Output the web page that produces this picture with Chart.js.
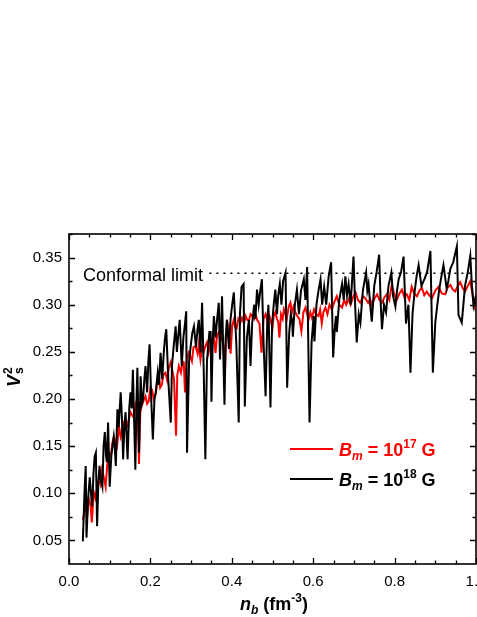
<!DOCTYPE html>
<html>
<head>
<meta charset="utf-8">
<script src="https://cdn.jsdelivr.net/npm/chart.js@4/dist/chart.umd.min.js"></script>
<style>
html,body{margin:0;padding:0;background:#fff;}
#wrap{position:relative;width:477px;height:617px;}
</style>
</head>
<body>
<div id="wrap"><canvas id="c" width="477" height="617"></canvas></div>
<script>
// ---- data ----
const blackX = [0.034,0.038,0.041,0.043,0.047,0.051,0.054,0.057,0.060,0.063,0.066,0.069,0.072,0.075,0.078,0.082,0.085,0.088,0.091,0.093,0.096,0.100,0.104,0.107,0.110,0.113,0.115,0.119,0.122,0.127,0.130,0.133,0.136,0.139,0.144,0.148,0.151,0.154,0.157,0.163,0.166,0.168,0.172,0.176,0.179,0.182,0.185,0.188,0.192,0.195,0.198,0.202,0.206,0.210,0.213,0.218,0.221,0.225,0.229,0.233,0.236,0.239,0.244,0.250,0.253,0.257,0.262,0.265,0.268,0.272,0.277,0.281,0.285,0.288,0.290,0.295,0.299,0.303,0.307,0.312,0.316,0.319,0.323,0.327,0.331,0.335,0.339,0.342,0.345,0.348,0.350,0.353,0.356,0.360,0.364,0.368,0.371,0.376,0.379,0.382,0.385,0.388,0.393,0.397,0.401,0.405,0.411,0.417,0.420,0.424,0.429,0.432,0.437,0.442,0.446,0.450,0.455,0.458,0.462,0.466,0.470,0.474,0.478,0.483,0.487,0.490,0.495,0.499,0.503,0.507,0.511,0.514,0.518,0.522,0.526,0.532,0.536,0.541,0.545,0.548,0.550,0.555,0.560,0.565,0.570,0.577,0.581,0.585,0.591,0.596,0.601,0.603,0.608,0.613,0.618,0.622,0.627,0.632,0.638,0.644,0.649,0.653,0.656,0.658,0.664,0.671,0.675,0.679,0.683,0.687,0.692,0.699,0.703,0.707,0.712,0.716,0.722,0.730,0.733,0.736,0.740,0.744,0.750,0.756,0.762,0.766,0.769,0.774,0.779,0.785,0.792,0.796,0.802,0.806,0.810,0.816,0.822,0.828,0.834,0.839,0.844,0.849,0.854,0.859,0.866,0.874,0.880,0.888,0.894,0.900,0.905,0.910,0.915,0.920,0.928,0.932,0.937,0.944,0.953,0.957,0.961,0.965,0.969,0.973,0.980,0.986,0.990,0.994,1.000];
const blackY = [0.049,0.100,0.129,0.053,0.095,0.117,0.100,0.086,0.120,0.139,0.143,0.065,0.110,0.129,0.115,0.107,0.150,0.165,0.140,0.133,0.175,0.107,0.140,0.150,0.160,0.145,0.129,0.189,0.170,0.207,0.180,0.136,0.170,0.186,0.136,0.190,0.207,0.190,0.231,0.125,0.200,0.233,0.143,0.224,0.195,0.200,0.220,0.235,0.207,0.240,0.258,0.200,0.157,0.200,0.207,0.228,0.215,0.249,0.221,0.250,0.265,0.274,0.220,0.175,0.235,0.255,0.277,0.250,0.265,0.284,0.235,0.265,0.280,0.293,0.143,0.240,0.256,0.270,0.277,0.255,0.275,0.284,0.249,0.302,0.230,0.136,0.240,0.256,0.271,0.271,0.197,0.260,0.288,0.265,0.285,0.302,0.242,0.309,0.250,0.194,0.265,0.284,0.253,0.285,0.300,0.313,0.260,0.175,0.290,0.319,0.322,0.192,0.265,0.284,0.235,0.280,0.300,0.285,0.316,0.300,0.315,0.327,0.260,0.203,0.280,0.300,0.191,0.280,0.300,0.316,0.290,0.310,0.322,0.300,0.325,0.334,0.212,0.270,0.290,0.284,0.266,0.300,0.316,0.290,0.315,0.327,0.305,0.340,0.175,0.260,0.288,0.261,0.300,0.315,0.327,0.300,0.319,0.300,0.330,0.345,0.244,0.275,0.288,0.271,0.305,0.322,0.305,0.330,0.310,0.322,0.300,0.351,0.300,0.260,0.290,0.281,0.315,0.334,0.315,0.322,0.300,0.282,0.320,0.335,0.353,0.300,0.274,0.300,0.292,0.320,0.334,0.310,0.298,0.315,0.327,0.335,0.351,0.280,0.300,0.228,0.290,0.313,0.330,0.342,0.320,0.328,0.335,0.357,0.228,0.281,0.300,0.317,0.330,0.342,0.317,0.325,0.338,0.345,0.362,0.289,0.285,0.281,0.300,0.320,0.335,0.352,0.320,0.299,0.310];

const redX = [0.034,0.038,0.042,0.045,0.049,0.053,0.056,0.061,0.065,0.070,0.074,0.077,0.081,0.085,0.090,0.094,0.098,0.103,0.106,0.110,0.114,0.118,0.123,0.127,0.130,0.134,0.139,0.144,0.148,0.151,0.156,0.160,0.164,0.168,0.172,0.175,0.178,0.183,0.188,0.192,0.196,0.200,0.204,0.208,0.213,0.217,0.221,0.224,0.228,0.232,0.237,0.241,0.245,0.250,0.254,0.258,0.263,0.266,0.270,0.275,0.279,0.282,0.285,0.289,0.294,0.298,0.302,0.306,0.311,0.316,0.319,0.323,0.327,0.331,0.335,0.339,0.343,0.348,0.352,0.356,0.360,0.364,0.368,0.372,0.376,0.380,0.383,0.386,0.388,0.392,0.397,0.401,0.405,0.408,0.412,0.416,0.421,0.425,0.430,0.434,0.438,0.442,0.446,0.450,0.455,0.458,0.462,0.468,0.473,0.478,0.483,0.488,0.491,0.495,0.500,0.503,0.507,0.511,0.514,0.517,0.521,0.525,0.528,0.532,0.535,0.540,0.544,0.548,0.552,0.556,0.561,0.566,0.571,0.576,0.581,0.585,0.589,0.593,0.597,0.602,0.607,0.613,0.617,0.621,0.625,0.630,0.635,0.640,0.646,0.652,0.658,0.664,0.671,0.676,0.681,0.687,0.692,0.698,0.704,0.710,0.716,0.722,0.728,0.735,0.740,0.744,0.750,0.757,0.763,0.769,0.775,0.781,0.787,0.793,0.800,0.806,0.812,0.818,0.824,0.830,0.836,0.842,0.848,0.855,0.861,0.867,0.873,0.879,0.885,0.892,0.900,0.908,0.916,0.924,0.930,0.937,0.943,0.949,0.955,0.961,0.967,0.973,0.980,0.986,0.991,0.996,1.000];
const redY = [0.072,0.080,0.085,0.078,0.094,0.088,0.069,0.101,0.095,0.108,0.115,0.110,0.125,0.118,0.107,0.130,0.143,0.140,0.152,0.160,0.155,0.150,0.171,0.160,0.165,0.175,0.178,0.172,0.180,0.186,0.182,0.180,0.195,0.200,0.131,0.185,0.192,0.198,0.203,0.195,0.198,0.212,0.210,0.200,0.205,0.218,0.224,0.212,0.215,0.226,0.228,0.220,0.232,0.239,0.230,0.221,0.161,0.225,0.235,0.228,0.240,0.239,0.207,0.240,0.249,0.245,0.240,0.255,0.256,0.248,0.258,0.242,0.255,0.250,0.256,0.260,0.250,0.263,0.258,0.265,0.249,0.268,0.271,0.262,0.266,0.255,0.225,0.270,0.284,0.275,0.248,0.278,0.284,0.276,0.275,0.285,0.281,0.286,0.280,0.288,0.284,0.283,0.290,0.288,0.285,0.290,0.284,0.280,0.249,0.285,0.290,0.282,0.290,0.284,0.275,0.288,0.292,0.285,0.282,0.265,0.290,0.285,0.295,0.290,0.285,0.298,0.302,0.292,0.298,0.292,0.288,0.285,0.272,0.292,0.297,0.290,0.285,0.292,0.286,0.295,0.290,0.288,0.295,0.280,0.292,0.297,0.290,0.300,0.295,0.303,0.309,0.300,0.297,0.305,0.300,0.306,0.300,0.308,0.313,0.305,0.302,0.309,0.307,0.302,0.306,0.300,0.306,0.311,0.305,0.302,0.308,0.311,0.305,0.321,0.310,0.306,0.312,0.316,0.308,0.311,0.305,0.319,0.312,0.309,0.315,0.318,0.310,0.314,0.310,0.307,0.315,0.319,0.312,0.311,0.318,0.321,0.316,0.314,0.320,0.324,0.318,0.314,0.320,0.325,0.312,0.298,0.305];

const conformalX = [0.345, 1.0];
const conformalY = [1/3, 1/3];

const xTickValues = [0.0,0.2,0.4,0.6,0.8,1.0];
const xTickLabels = ["0.0","0.2","0.4","0.6","0.8","1.0"];
const yTickValues = [0.05,0.10,0.15,0.20,0.25,0.30,0.35];
const yTickLabels = ["0.05","0.10","0.15","0.20","0.25","0.30","0.35"];

const FONT = "'Liberation Sans', Arial, sans-serif";

function pts(xs, ys){ return xs.map((x,i)=>({x:x, y:ys[i]})); }

// draw mixed-style text pieces: [text, font, dy, color]
function drawRich(ctx, x, y, parts){
  let cx = x;
  for (const p of parts){
    ctx.font = p[1];
    ctx.fillStyle = p[3] || '#000';
    ctx.fillText(p[0], cx, y + p[2]);
    cx += ctx.measureText(p[0]).width;
  }
  return cx - x;
}
function richWidth(ctx, parts){
  let w = 0;
  for (const p of parts){ ctx.font = p[1]; w += ctx.measureText(p[0]).width; }
  return w;
}

const decor = {
  id: 'decor',
  afterDatasetsDraw(chart){
    const ctx = chart.ctx;
    const a = chart.chartArea;
    const xs = chart.scales.x, ys = chart.scales.y;
    ctx.save();
    // frame
    ctx.strokeStyle = '#000';
    ctx.lineWidth = 1.6;
    ctx.strokeRect(a.left, a.top, a.right - a.left, a.bottom - a.top);
    // ticks (inward) on all four sides
    ctx.lineWidth = 1.3;
    ctx.beginPath();
    for (let v = 0; v <= 1.0001; v += 0.05){
      const px = Math.round(xs.getPixelForValue(v)) + 0.5;
      const major = Math.abs(v/0.2 - Math.round(v/0.2)) < 1e-6;
      const L = major ? 6 : 3.5;
      ctx.moveTo(px, a.bottom); ctx.lineTo(px, a.bottom - L);
      ctx.moveTo(px, a.top); ctx.lineTo(px, a.top + L);
    }
    for (let v = 0.05; v <= 0.3751; v += 0.025){
      const py = Math.round(ys.getPixelForValue(v)) + 0.5;
      const major = Math.abs(v/0.05 - Math.round(v/0.05)) < 1e-6;
      const L = major ? 6 : 3.5;
      ctx.moveTo(a.left, py); ctx.lineTo(a.left + L, py);
      ctx.moveTo(a.right, py); ctx.lineTo(a.right - L, py);
    }
    ctx.stroke();

    // "Conformal limit"
    ctx.textBaseline = 'alphabetic';
    ctx.textAlign = 'left';
    ctx.fillStyle = '#000';
    ctx.font = '18px ' + FONT;
    ctx.fillText('Conformal limit', 83, 281);

    // legend
    const legend = [
      {color:'#ff0000', sup:'17', y:449},
      {color:'#000000', sup:'18', y:479}
    ];
    for (const l of legend){
      ctx.strokeStyle = l.color;
      ctx.lineWidth = 2;
      ctx.beginPath(); ctx.moveTo(290, l.y); ctx.lineTo(333, l.y); ctx.stroke();
      drawRich(ctx, 339, l.y + 7, [
        ['B', 'italic bold 18px ' + FONT, 0, l.color],
        ['m', 'italic bold 12px ' + FONT, 4, l.color],
        [' = 10', 'bold 18px ' + FONT, 0, l.color],
        [l.sup, 'bold 12px ' + FONT, -8, l.color],
        [' G', 'bold 18px ' + FONT, 0, l.color]
      ]);
    }

    // x axis title
    const xParts = [
      ['n', 'italic bold 18px ' + FONT, 0],
      ['b', 'italic bold 12px ' + FONT, 4],
      [' (fm', 'bold 18px ' + FONT, 0],
      ['-3', 'bold 12px ' + FONT, -8],
      [')', 'bold 18px ' + FONT, 0]
    ];
    const xw = richWidth(ctx, xParts);
    drawRich(ctx, 274 - xw/2, 610, xParts);

    // y axis title (rotated)
    ctx.translate(20, 387);
    ctx.rotate(-Math.PI/2);
    ctx.font = 'italic bold 18px ' + FONT;
    ctx.fillStyle = '#000';
    ctx.fillText('V', 0, 0);
    const vw = ctx.measureText('V').width;
    ctx.font = 'bold 12px ' + FONT;
    ctx.fillText('s', vw + 1, 3);
    ctx.fillText('2', vw + 1, -8);
    ctx.restore();
  }
};

new Chart(document.getElementById('c'), {
  type: 'line',
  data: {
    datasets: [
      {
        label: 'Bm = 10^18 G',
        data: pts(blackX, blackY),
        borderColor: '#000000',
        borderWidth: 2,
        pointRadius: 0,
        tension: 0,
        order: 1
      },
      {
        label: 'Bm = 10^17 G',
        data: pts(redX, redY),
        borderColor: '#ff0000',
        borderWidth: 2,
        pointRadius: 0,
        tension: 0,
        order: 2
      },
      {
        label: 'Conformal limit',
        data: pts(conformalX, conformalY),
        borderColor: '#000000',
        borderWidth: 1.6,
        borderDash: [2, 5],
        pointRadius: 0,
        order: 0
      }
    ]
  },
  options: {
    responsive: false,
    animation: false,
    events: [],
    layout: { padding: { top: 234, right: 1, left: 0, bottom: 0 } },
    plugins: { legend: { display: false }, tooltip: { enabled: false }, title: { display: false } },
    scales: {
      x: {
        type: 'linear',
        min: 0, max: 1.0,
        afterFit: s => { s.height = 53; s.paddingLeft = 0; s.paddingRight = 0; },
        afterBuildTicks: s => { s.ticks = xTickValues.map(v => ({value: v})); },
        grid: { display: false, drawTicks: false },
        border: { display: false },
        ticks: {
          padding: 9,
          color: '#000',
          font: { family: FONT, size: 15 },
          maxRotation: 0,
          autoSkip: false,
          callback: (v, i) => xTickLabels[i]
        }
      },
      y: {
        type: 'linear',
        min: 0.025, max: 0.375,
        afterFit: s => { s.width = 69; s.paddingTop = 0; s.paddingBottom = 0; },
        afterBuildTicks: s => { s.ticks = yTickValues.map(v => ({value: v})); },
        grid: { display: false, drawTicks: false },
        border: { display: false },
        ticks: {
          padding: 7,
          color: '#000',
          font: { family: FONT, size: 15 },
          autoSkip: false,
          callback: (v, i) => yTickLabels[i]
        }
      }
    }
  },
  plugins: [decor]
});
</script>
</body>
</html>
